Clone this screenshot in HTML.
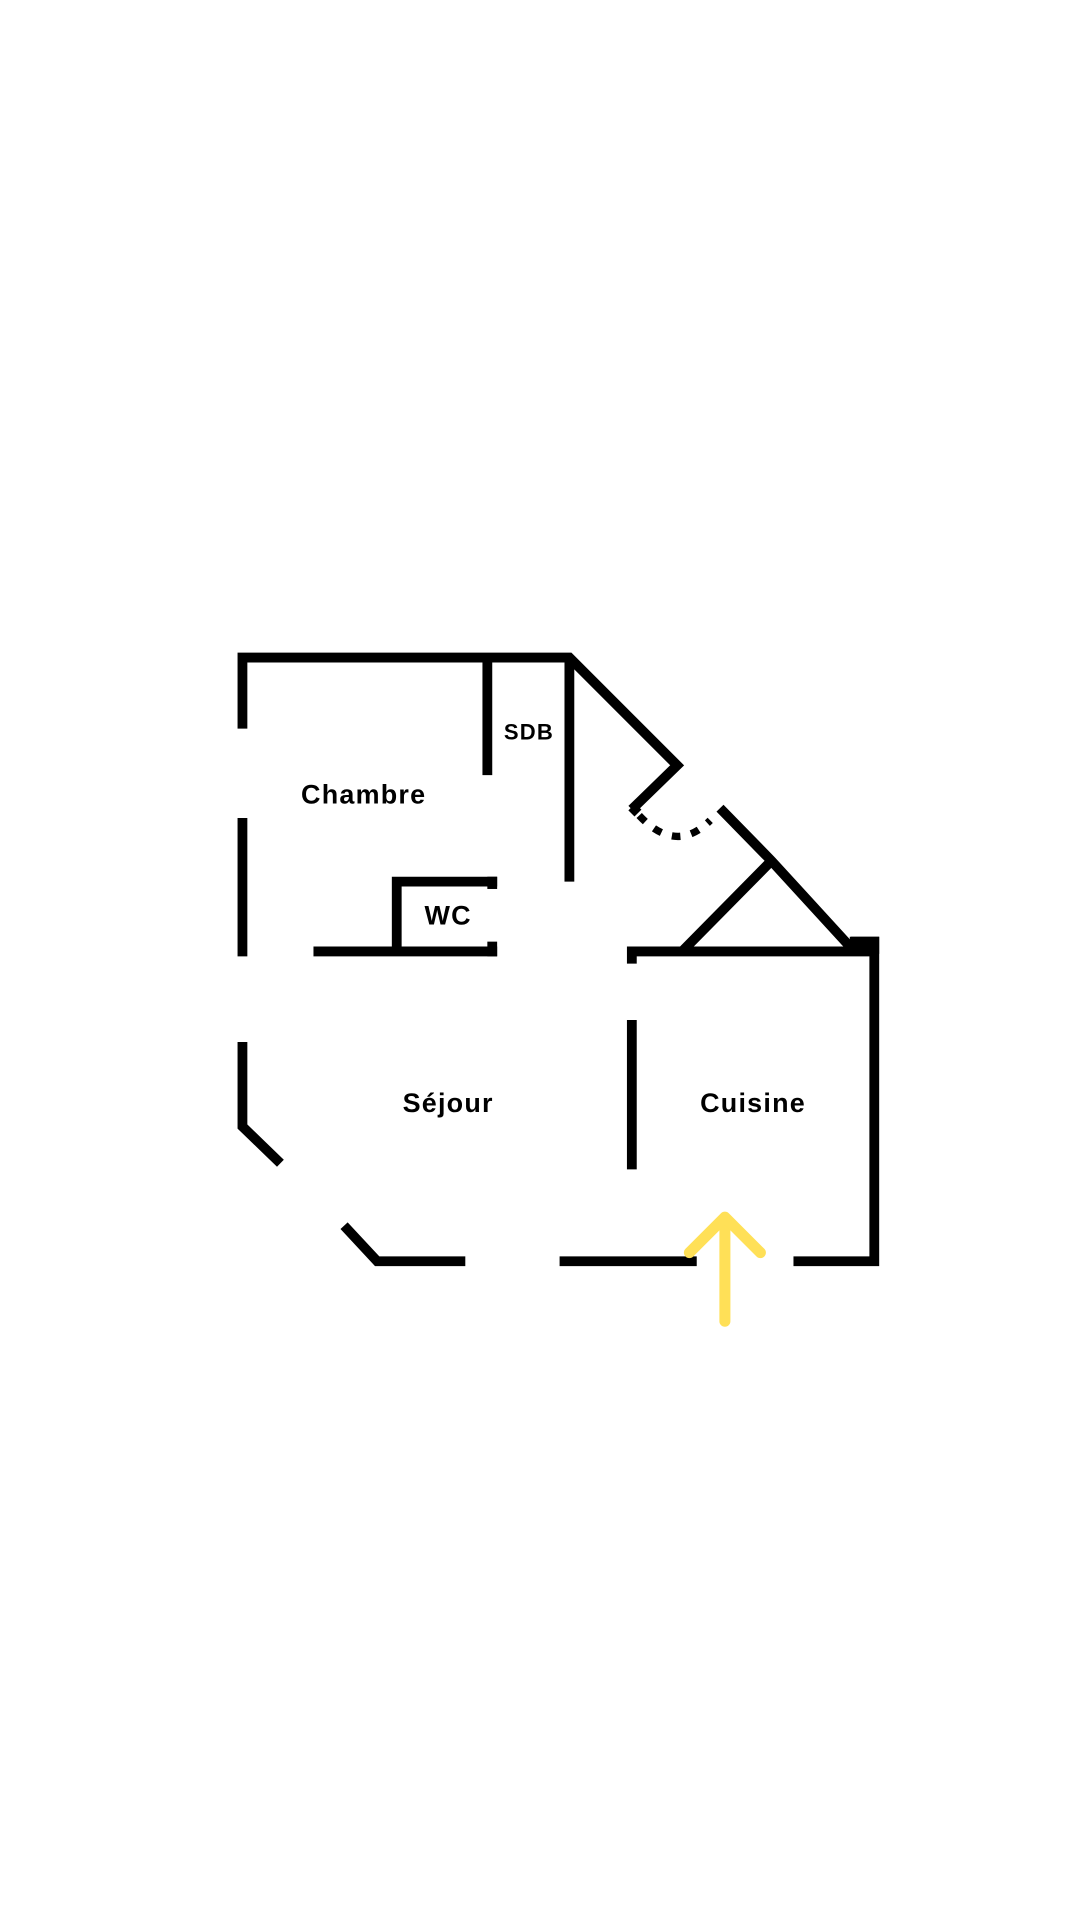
<!DOCTYPE html>
<html><head><meta charset="utf-8"><style>
html,body{margin:0;padding:0;background:#fff;width:1080px;height:1920px;overflow:hidden}
svg{display:block}
text{font-family:"Liberation Sans",sans-serif;font-weight:bold;fill:#000;letter-spacing:1px}
</style></head><body>
<svg width="1080" height="1920" viewBox="0 0 882 1568" preserveAspectRatio="none">
<g fill="none" stroke="#000" stroke-width="8" stroke-linecap="butt" stroke-linejoin="miter">
<polyline points="198,595 198,537 465,537 553,625 516,661"/>
<line x1="516" y1="659" x2="521" y2="664"/>
<path d="M522,666 Q552,698 580,670" stroke-dasharray="7,9" stroke-width="6"/>
<polyline points="588,660 630,703 695,774"/>
<line x1="398" y1="537" x2="398" y2="633"/>
<line x1="465" y1="537" x2="465" y2="720"/>
<line x1="198" y1="668" x2="198" y2="781"/>
<polyline points="198,851 198,920 229,950"/>
<polyline points="281,1001 308,1030 380,1030"/>
<line x1="457" y1="1030" x2="569" y2="1030"/>
<polyline points="648,1030 714,1030 714,769 695,769"/>
<polyline points="516,787 516,777 714,777"/>
<line x1="557" y1="777" x2="630" y2="703"/>
<line x1="516" y1="833" x2="516" y2="955"/>
<line x1="256" y1="777" x2="406" y2="777"/>
<polyline points="324,777 324,720 406,720"/>
<line x1="402" y1="716" x2="402" y2="726"/>
<line x1="402" y1="769" x2="402" y2="781"/>
</g>
<rect x="694" y="765" width="24" height="14" fill="#000"/>
<g fill="none" stroke="#FFE057" stroke-width="9" stroke-linecap="round" stroke-linejoin="round">
<line x1="592" y1="996" x2="592" y2="1079"/>
<polyline points="563,1023 592,994 621,1023"/>
</g>
<text x="297" y="656" font-size="22" text-anchor="middle">Chambre</text>
<text x="432" y="604" font-size="18" text-anchor="middle">SDB</text>
<text x="366" y="755" font-size="22" text-anchor="middle">WC</text>
<text x="366" y="908" font-size="22" text-anchor="middle">Séjour</text>
<text x="615" y="908" font-size="22" text-anchor="middle">Cuisine</text>
</svg>
</body></html>
